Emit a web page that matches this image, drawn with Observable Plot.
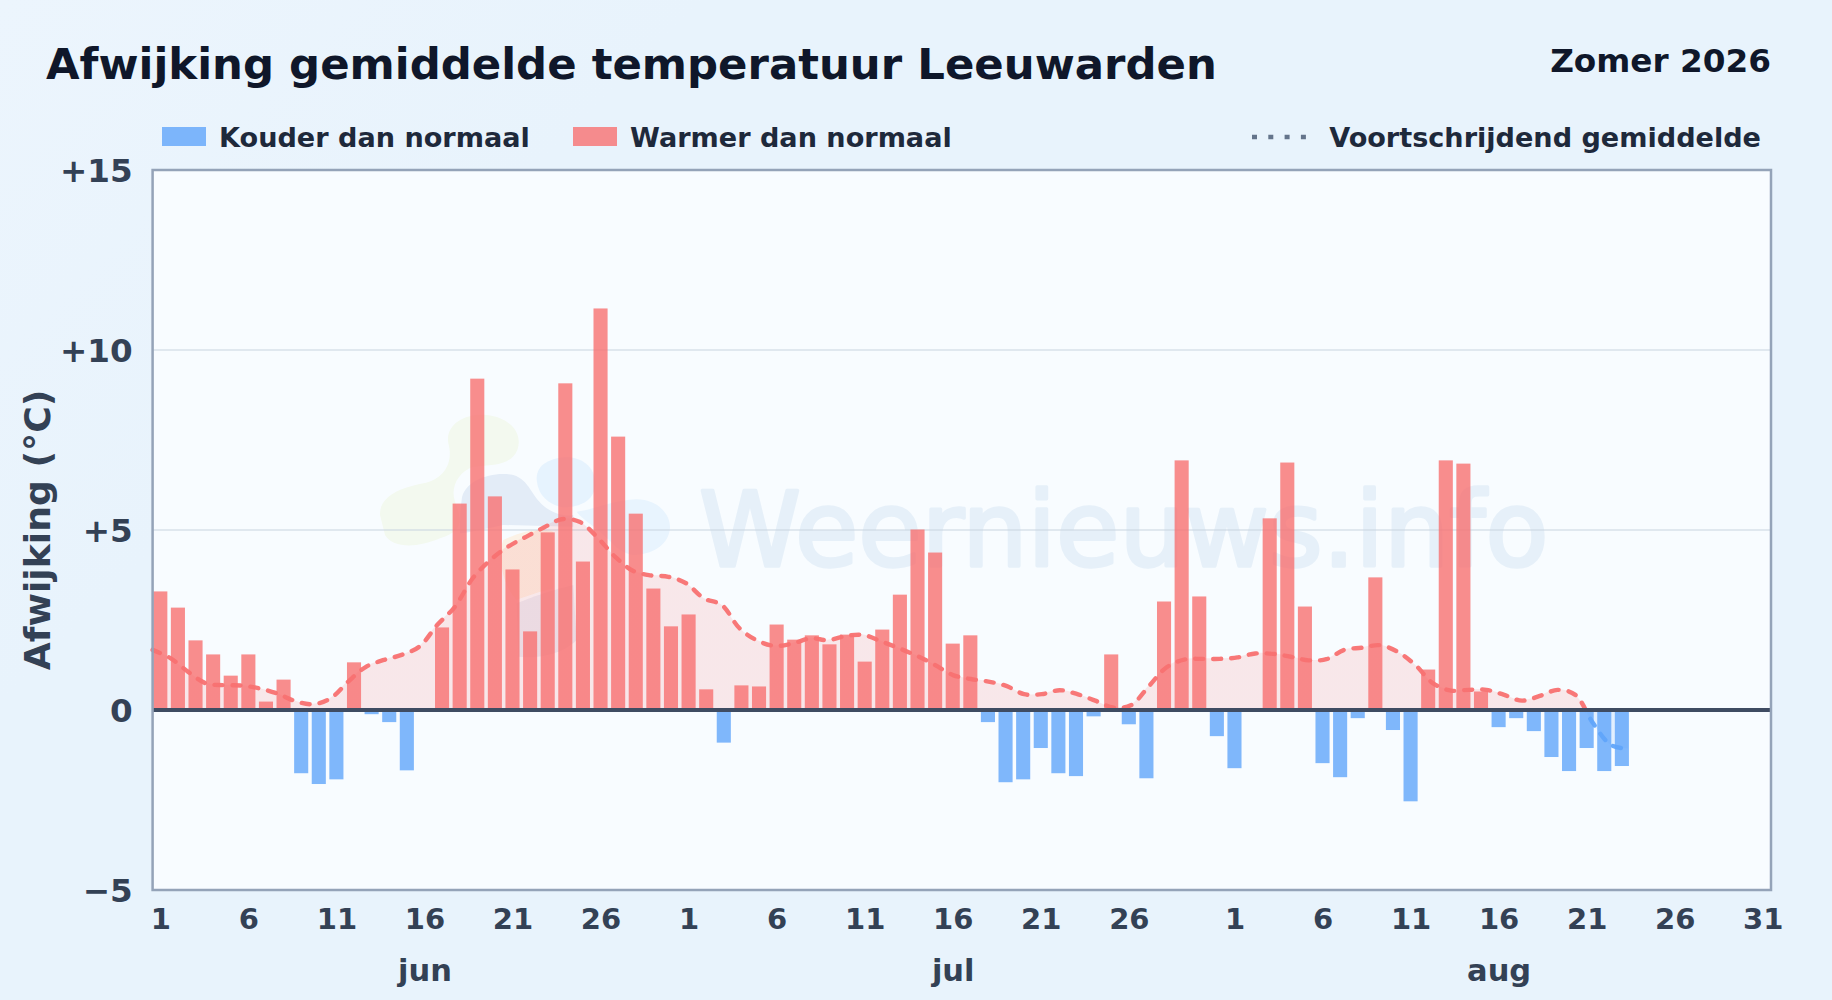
<!DOCTYPE html>
<html lang="nl">
<head>
<meta charset="utf-8">
<title>Afwijking gemiddelde temperatuur Leeuwarden</title>
<style>
  html, body { margin: 0; padding: 0; }
  body {
    width: 1832px; height: 1000px; overflow: hidden; position: relative;
    background: linear-gradient(135deg, #ecf5fd 0%, #e8f3fc 25%, #e8f3fc 100%);
    font-family: "DejaVu Sans", sans-serif; font-weight: 700;
  }
  .hd { position: absolute; white-space: nowrap; line-height: 1; }
  #title { left: 46px; top: 43px; font-size: 43.4px; color: #0f172a; }
  #season { right: 61px; top: 45px; font-size: 32.7px; color: #0f172a; }
  .lg { top: 124px; font-size: 27.1px; color: #1e293b; }
  .sw { position: absolute; top: 127px; width: 44px; height: 19px; }
  #chart { position: absolute; left: 0; top: 140px; }
  #chart svg { display: block; }
</style>
<script src="https://cdn.jsdelivr.net/npm/d3@7"></script>
<script src="https://cdn.jsdelivr.net/npm/@observablehq/plot@0.6"></script>
</head>
<body>
  <div class="hd" id="title">Afwijking gemiddelde temperatuur Leeuwarden</div>
  <div class="hd" id="season">Zomer 2026</div>
  <div class="sw" style="left:162px;background:#60a5fa;opacity:.8"></div>
  <div class="hd lg" style="left:219px">Kouder dan normaal</div>
  <div class="sw" style="left:573px;background:#f87171;opacity:.8"></div>
  <div class="hd lg" style="left:630px">Warmer dan normaal</div>
  <svg class="hd" style="left:1250px;top:134px" width="60" height="6"><line x1="2" x2="58" y1="3" y2="3" stroke="#64748b" stroke-width="4.5" stroke-dasharray="5 11.3"/></svg>
  <div class="hd lg" style="right:71px">Voortschrijdend gemiddelde</div>
  <div id="chart"></div>
<script>
// Daily deviation from normal (°C)
const junValues = [3.28, 2.83, 1.92, 1.53, 0.94, 1.53, 0.22, 0.83, -1.77, -2.07, -1.94, 1.31, -0.13, -0.35, -1.69,
                   0, 2.28, 5.72, 9.19, 5.92, 3.89, 2.17, 4.92, 9.06, 4.11, 11.14, 7.58, 5.44, 3.36, 2.31];
const julValues = [2.64, 0.56, -0.92, 0.67, 0.64, 2.36, 1.94, 2.06, 1.81, 2.08, 1.33, 2.22, 3.19, 5.0, 4.36, 1.83,
                   2.06, -0.35, -2.02, -1.94, -1.07, -1.77, -1.85, -0.19, 1.53, -0.41, -1.91, 3.0, 6.92, 3.14, -0.74];
const augValues = [-1.63, 0, 5.31, 6.86, 2.86, -1.49, -1.88, -0.24, 3.67, -0.57, -2.55, 1.11, 6.92, 6.83, 0.5,
                   -0.49, -0.24, -0.6, -1.32, -1.71, -1.07, -1.71, -1.57];
// Moving average, one value per day
const movingAverage = [1.67, 1.44, 1.06, 0.74, 0.69, 0.68, 0.6, 0.46, 0.25, 0.16, 0.32, 0.79, 1.2, 1.39, 1.53, 1.76,
  2.36, 2.87, 3.66, 4.17, 4.54, 4.81, 5.07, 5.3, 5.23, 4.8, 4.26, 3.87, 3.74, 3.7, 3.52, 3.1, 2.92, 2.27, 1.93, 1.78,
  1.85, 1.99, 1.94, 2.06, 2.08, 1.9, 1.71, 1.5, 1.25, 0.97, 0.86, 0.79, 0.67, 0.44, 0.44, 0.55, 0.44, 0.26, 0.07, 0.13,
  0.65, 1.18, 1.4, 1.42, 1.42, 1.46, 1.57, 1.56, 1.48, 1.38, 1.41, 1.67, 1.73, 1.8, 1.62, 1.25, 0.74, 0.54, 0.56, 0.56,
  0.42, 0.26, 0.39, 0.56, 0.42, -0.37, -0.97, -1.08];
// Axis content
const tickIndex  = [0, 5, 10, 15, 20, 25, 30, 35, 40, 45, 50, 55, 61, 66, 71, 76, 81, 86, 91];
const tickLabels = ["1","6","11","16","21","26","1","6","11","16","21","26","1","6","11","16","21","26","31"];
const monthNames = ["jun", "jul", "aug"];
const monthIndex = [15, 45, 76];
const yTicks = [-5, 0, 5, 10, 15];
const yTickLabels = ["\u22125", "0", "+5", "+10", "+15"];

const RED = "#f87171", BLUE = "#60a5fa";
const values = [...junValues, ...julValues, ...augValues];
const bars = values.map((v, i) => ({i, v})).filter(d => d.v !== 0);
// The bars sit on day bands; the moving average is spread over the full width.
const xDomain = [-0.466, 91.44];
const avg = movingAverage.map((v, j) => ({x: xDomain[0] + j * (xDomain[1] - xDomain[0]) / 91, v}));

// Hard red/blue split at zero, through the y scale
function splitGradients(index, {y}) {
  const defs = d3.create("svg:defs");
  const [top, bottom] = [y(15), y(-5)];
  const stop = (y(0) - top) / (bottom - top);
  for (const [id, o] of [["avgLine", 0.95], ["avgArea", 0.15]]) {
    const g = defs.append("linearGradient").attr("id", id).attr("gradientUnits", "userSpaceOnUse")
      .attr("x1", 0).attr("x2", 0).attr("y1", top).attr("y2", bottom);
    for (const [off, c] of [[0, RED], [stop, RED], [stop, BLUE], [1, BLUE]])
      g.append("stop").attr("offset", off).attr("stop-color", c).attr("stop-opacity", o);
  }
  return defs.node();
}

// Faint logo behind the chart
function logo() {
  const g = d3.create("svg:g").attr("transform", "translate(360,260) scale(0.3333)");
  const paths = [
    ["#f3f9ef", "M60 345C58 285 130 262 190 250C250 238 282 190 265 130C255 70 320 38 380 45C450 52 490 100 472 150C452 197 400 195 340 200C295 215 270 262 285 305C300 350 320 390 240 415C170 445 100 445 75 405Z"],
    ["#e3ecf7", "M305 300C310 240 400 212 460 225C510 240 512 290 560 325C590 345 620 350 640 345L640 380L430 375C380 385 345 395 300 400C300 365 300 330 305 300Z"],
    ["#e6f3fe", "M530 235C530 190 580 170 630 172C680 178 712 215 705 265C695 310 650 322 610 322C565 315 532 285 530 235Z"],
    ["#e8f4fe", "M650 335C700 330 760 300 830 298C890 298 932 340 930 385C925 440 870 465 820 465C780 460 760 430 720 395C690 370 665 355 650 335Z"],
    ["#fbf2e6", "M430 420C480 395 540 380 580 395L580 565C540 575 510 585 470 600C430 560 410 470 430 420Z"],
    ["#e9edf6", "M470 610C520 590 560 575 640 555L650 720C600 770 520 775 475 770Z"]
  ];
  for (const [fill, d] of paths) g.append("path").attr("d", d).attr("fill", fill);
  return g.node();
}

const curve = "catmull-rom";
const chart = Plot.plot({
  width: 1832, height: 860,
  marginLeft: 152.1, marginRight: 61.5, marginTop: 29.5, marginBottom: 110.5,
  style: {fontFamily: "DejaVu Sans", fontWeight: 700, background: "transparent", overflow: "visible"},
  x: {type: "linear", domain: xDomain, axis: null},
  y: {type: "linear", domain: [-5, 15], axis: null},
  marks: [
    splitGradients,
    Plot.frame({fill: "#f8fcff", stroke: null}),
    logo,
    Plot.text(["Weernieuws.info"], {
      frameAnchor: "middle", dx: 162, dy: 3, fontSize: 103, fontWeight: 400,
      fill: "#e6f0f9", stroke: "#e6f0f9", strokeWidth: 3.5
    }),
    Plot.ruleY([5, 10], {stroke: "#cbd5e1", strokeOpacity: 0.7, strokeWidth: 1.6}),
    Plot.areaY(avg, {x: "x", y1: 0, y2: "v", curve, fill: "url(#avgArea)"}),
    Plot.rectY(bars, {
      x1: d => d.i - 0.4, x2: d => d.i + 0.4, y1: 0, y2: "v",
      fill: d => d.v < 0 ? BLUE : RED, fillOpacity: 0.8
    }),
    Plot.lineY(avg, {
      x: "x", y: "v", curve, stroke: "url(#avgLine)", strokeWidth: 4.4,
      strokeDasharray: "8 10", strokeLinecap: "round"
    }),
    Plot.ruleY([0], {stroke: "#3f4c62", strokeWidth: 4}),
    Plot.frame({stroke: "#94a3b8", strokeWidth: 2.5}),
    Plot.axisY({
      ticks: yTicks, tickFormat: v => yTickLabels[yTicks.indexOf(v)],
      tickSize: 0, tickPadding: 20, fontSize: 32.6, fill: "#334155", label: null, dy: 2
    }),
    Plot.axisX({
      ticks: tickIndex, tickFormat: i => tickLabels[tickIndex.indexOf(i)],
      tickSize: 0, tickPadding: 18, fontSize: 29, fill: "#334155", label: null
    }),
    Plot.text(monthNames, {
      x: (d, i) => monthIndex[i], frameAnchor: "bottom", dy: 91,
      fontSize: 30.5, fill: "#334155", text: d => d
    }),
    Plot.text(["Afwijking (°C)"], {
      frameAnchor: "left", dx: -114, rotate: -90, textAnchor: "middle", fontSize: 36.2, fill: "#334155"
    })
  ]
});
document.getElementById("chart").append(chart);
</script>
</body>
</html>
